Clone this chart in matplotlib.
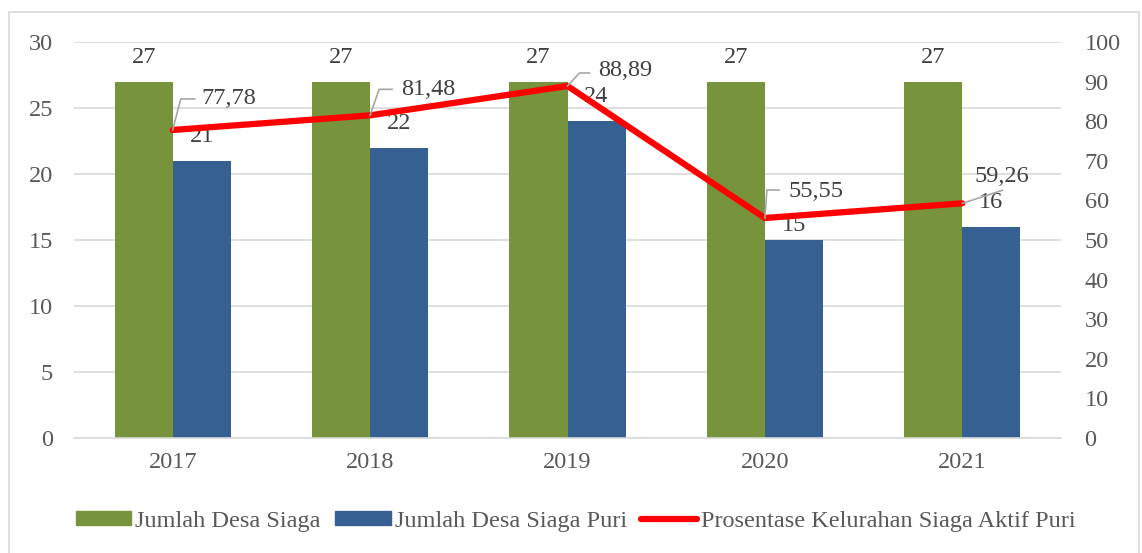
import matplotlib
matplotlib.use("Agg")
import matplotlib.pyplot as plt
from matplotlib.patches import Rectangle
from matplotlib.lines import Line2D
from matplotlib.transforms import offset_copy
import numpy as np

years = ["2017", "2018", "2019", "2020", "2021"]
desa_siaga = [27, 27, 27, 27, 27]
desa_siaga_puri = [21, 22, 24, 15, 16]
prosentase = [77.78, 81.48, 88.89, 55.55, 59.26]
prosentase_labels = ["77,78", "81,48", "88,89", "55,55", "59,26"]
series_names = ["Jumlah Desa Siaga", "Jumlah Desa Siaga Puri",
                "Prosentase Kelurahan Siaga Aktif Puri"]

GREEN = "#77933C"
BLUE = "#376092"
RED = "#FF0000"
TXT = "#595959"
LBL = "#404040"
GRID = "#D9D9D9"
FS = 17.5

plt.rcParams['font.family'] = ['Liberation Serif', 'DejaVu Serif']

W, H = 1142, 553
fig = plt.figure(figsize=(W / 100, H / 100), dpi=100)

# chart border
fig.add_artist(Rectangle((9 / W, -0.02), (1139 - 9) / W, 1 - 12 / H + 0.02,
                         transform=fig.transFigure, fill=False,
                         edgecolor=GRID, linewidth=1.2))

ax = fig.add_axes([74 / W, 1 - 438 / H, (1061 - 74) / W, (438 - 42) / H])
ax2 = ax.twinx()

x = np.arange(len(years))
bw = 0.294
b1 = ax.bar(x - bw / 2, desa_siaga, bw, color=GREEN, zorder=2)
b2 = ax.bar(x + bw / 2, desa_siaga_puri, bw, color=BLUE, zorder=2)

ax.set_ylim(0, 30)
ax.set_yticks(range(0, 31, 5))
ax.set_xlim(-0.5, len(years) - 0.5)
ax.set_xticks(x)
ax.set_xticklabels(years)
ax.grid(axis='y', color=GRID, linewidth=1.2, zorder=0)
ax.set_axisbelow(True)
for s in ax.spines.values():
    s.set_visible(False)
for s in ax2.spines.values():
    s.set_visible(False)
ax.spines['bottom'].set_visible(True)
ax.spines['bottom'].set_color(GRID)
ax.spines['bottom'].set_linewidth(1.2)
ax.tick_params(axis='both', length=0, labelsize=FS, labelcolor=TXT)
ax.tick_params(axis='y', pad=15)
ax.tick_params(axis='x', pad=10)

for rect, v in zip(b1, desa_siaga):
    ax.annotate(str(v), (rect.get_x() + rect.get_width() / 2, v),
                xytext=(0, 14), textcoords='offset pixels',
                ha='center', va='bottom', fontsize=FS, color=LBL)
blue_label_gap = [14, 14, 14, 4, 14]
for rect, v, g in zip(b2, desa_siaga_puri, blue_label_gap):
    ax.annotate(str(v), (rect.get_x() + rect.get_width() / 2, v),
                xytext=(0, g), textcoords='offset pixels',
                ha='center', va='bottom', fontsize=FS, color=LBL)

ax2.set_ylim(0, 100)
ax2.set_yticks(range(0, 101, 10))
ax2.tick_params(axis='y', length=0, labelsize=FS, labelcolor=TXT, pad=17)
ax2.plot(x, prosentase, color=RED, linewidth=4.5, solid_capstyle='round',
         zorder=5)

# leader-line labels (offsets in pixels)
leaders = [
    [(0, 0), (8, 31), (22, 31)],
    [(0, 0), (9, 26), (22, 26)],
    [(0, 0), (12, 13), (22, 13)],
    [(0, 0), (2, 28), (14, 28)],
    [(0, 0), (40, 13)],
]
label_off = [(29, 31), (31, 26), (31, 15), (24, 27), (12, 27)]
for xi, yi, lab, pts, off in zip(x, prosentase, prosentase_labels,
                                 leaders, label_off):
    xs = []
    for dx, dy in pts:
        tr = offset_copy(ax2.transData, fig=fig, x=dx, y=dy, units='dots')
        xs.append(tr.transform((xi, yi)))
    xs = np.array(xs)
    fig.add_artist(Line2D(xs[:, 0], xs[:, 1], transform=None,
                          color="#A6A6A6", linewidth=1.2, zorder=6))
    ax2.annotate(lab, (xi, yi), xytext=off, textcoords='offset pixels',
                 ha='left', va='center', fontsize=FS, color=LBL, zorder=7)

handles = [Rectangle((0, 0), 1, 1, color=GREEN),
           Rectangle((0, 0), 1, 1, color=BLUE),
           Line2D([0], [0], color=RED, linewidth=4.5, solid_capstyle='round')]
fig.legend(handles, series_names, loc='center', bbox_to_anchor=(0.504, 1 - 521 / H),
           ncol=3, frameon=False, fontsize=FS, labelcolor=TXT,
           handlelength=2.3, handleheight=0.55, handletextpad=0.15,
           columnspacing=0.6)

fig.savefig("out.png", dpi=100)
